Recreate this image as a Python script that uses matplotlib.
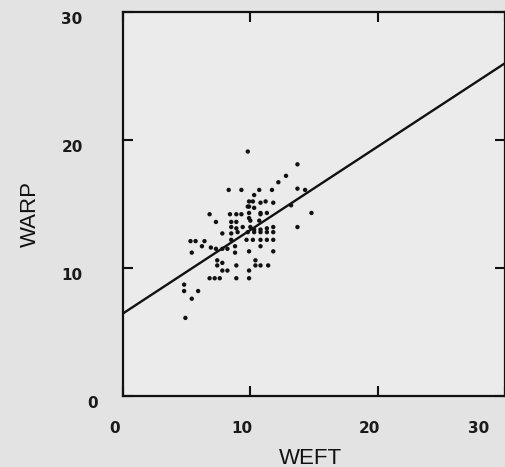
import matplotlib
matplotlib.use("Agg")
import matplotlib.pyplot as plt
from matplotlib.transforms import ScaledTranslation

# Data (WEFT vs WARP)
weft = [9.8, 13.7, 12.8, 12.2, 8.3, 9.3, 10.7, 11.7, 13.7, 14.3,
        10.3, 9.9, 10.2, 11.2, 11.8, 9.9, 10.3, 13.2, 14.8, 6.8,
        8.4, 8.9, 9.3, 9.9, 10.8, 11.3, 7.3, 8.5, 8.9, 10.0,
        10.7, 13.7, 8.5, 8.9, 9.4, 10.0, 10.3, 10.8, 11.3, 11.8,
        7.8, 8.5, 9.0, 9.8, 10.3, 10.8, 11.3, 11.8, 5.3, 5.7,
        6.4, 8.5, 9.7, 10.2, 10.8, 11.3, 11.8, 6.2, 6.9, 7.3,
        7.8, 8.2, 8.8, 5.4, 8.8, 9.9, 11.8, 10.8, 7.4, 7.4,
        7.8, 7.8, 8.2, 8.9, 9.9, 10.4, 10.4, 10.8, 11.4, 6.8,
        7.2, 7.6, 8.9, 9.9, 4.8, 4.8, 5.9, 5.4, 4.9, 10.8,
        10.8, 9.8, 9.9]
warp = [19.1, 18.1, 17.2, 16.7, 16.1, 16.1, 16.1, 16.1, 16.2, 16.1,
        15.7, 15.2, 15.2, 15.2, 15.1, 14.8, 14.7, 14.9, 14.3, 14.2,
        14.2, 14.2, 14.2, 14.3, 14.3, 14.3, 13.6, 13.6, 13.6, 13.7,
        13.7, 13.2, 13.2, 13.1, 13.2, 13.2, 13.0, 13.0, 13.1, 13.2,
        12.7, 12.7, 12.8, 12.8, 12.8, 12.8, 12.8, 12.8, 12.1, 12.1,
        12.1, 12.2, 12.2, 12.2, 12.2, 12.2, 12.2, 11.7, 11.6, 11.5,
        11.5, 11.5, 11.7, 11.2, 11.2, 11.3, 11.3, 11.7, 10.6, 10.2,
        10.4, 9.8, 9.8, 10.2, 9.8, 10.6, 10.2, 10.2, 10.2, 9.2,
        9.2, 9.2, 9.2, 9.2, 8.7, 8.2, 8.2, 7.6, 6.1, 15.1,
        14.2, 14.8, 13.9]

# Fitted line end points
fit_x = [0, 30]
fit_y = [6.45, 26.0]

ticks = [0, 10, 20, 30]
tick_labels = ["0", "10", "20", "30"]

W, H = 506, 467
fig = plt.figure(figsize=(W / 100, H / 100), dpi=100)
fig.patch.set_facecolor("#e3e3e3")

ax = fig.add_axes([123 / W, (H - 396) / H, 382 / W, 384 / H])
ax.set_facecolor("#ebebeb")
ax.set_xlim(0, 29.27)
ax.set_ylim(0, 30)

ax.plot(fit_x, fit_y, color="#111111", lw=1.7, solid_capstyle="butt", zorder=2)
ax.scatter(weft, warp, s=10, color="#111111", edgecolors="none", zorder=3)

for sp in ax.spines.values():
    sp.set_linewidth(1.6)
    sp.set_color("#111111")

ax.set_xticks(ticks)
ax.set_yticks(ticks)
ax.set_xticklabels(tick_labels)
ax.set_yticklabels(tick_labels)
ax.tick_params(direction="in", length=7, width=1.5, color="#111111",
               top=True, right=True, labelsize=11, labelcolor="#1a1a1a")
ax.tick_params(axis="x", pad=18)
ax.tick_params(axis="y", pad=0)

for lab in ax.get_xticklabels():
    lab.set_fontweight("bold")
    dx = -8 / 100
    if lab.get_text() == "30":
        dx = -26 / 100
    lab.set_transform(lab.get_transform() + ScaledTranslation(dx, 0, fig.dpi_scale_trans))

for lab in ax.get_yticklabels():
    lab.set_fontweight("bold")
    lab.set_horizontalalignment("center")
    dx = -51 / 100
    if lab.get_text() == "0":
        dx = -30 / 100
    lab.set_transform(lab.get_transform() + ScaledTranslation(dx, -6 / 100, fig.dpi_scale_trans))

fig.text(310 / W, 1 - 458 / H, "WEFT", ha="center", va="center",
         fontsize=16, color="#111111", fontfamily="Liberation Sans")
fig.text(30 / W, 1 - 214 / H, "WARP", ha="center", va="center", rotation=90,
         fontsize=16, color="#111111", fontfamily="Liberation Sans")

fig.savefig("out.png", dpi=100, facecolor=fig.get_facecolor())
